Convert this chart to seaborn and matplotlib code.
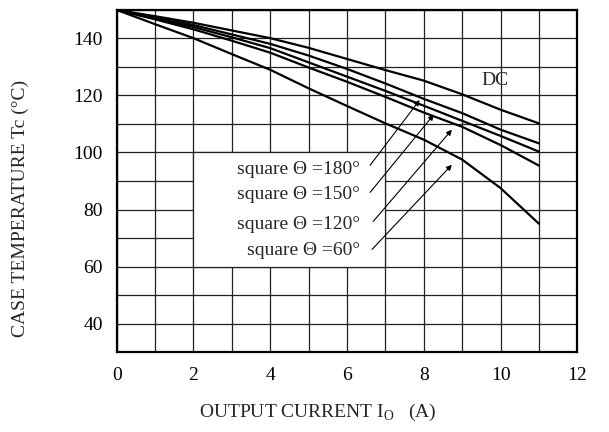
import matplotlib
matplotlib.use("Agg")
import matplotlib.pyplot as plt
import seaborn as sns
import pandas as pd
from matplotlib.patches import Rectangle

current = [0, 1, 2, 3, 4, 5, 6, 7, 8, 9, 10, 11]
temp_dc = [150, 147.8, 145.5, 142.8, 140.1, 136.7, 132.8, 128.9, 125.2, 120.4, 115.0, 110.2]
temp_180 = [150, 147.4, 144.7, 141.4, 138.1, 134.0, 129.3, 124.2, 118.8, 113.8, 108.0, 103.2]
temp_150 = [150, 147.0, 144.0, 140.4, 136.6, 131.6, 126.6, 121.6, 116.4, 111.1, 105.8, 100.3]
temp_120 = [150, 146.7, 143.2, 139.2, 135.0, 129.8, 124.8, 119.5, 114.0, 109.0, 102.6, 95.4]
temp_60 = [150, 145.0, 140.1, 134.5, 129.0, 122.5, 116.3, 110.2, 104.5, 97.5, 87.5, 75.0]

labels = ["square \u0398 =180\u00b0", "square \u0398 =150\u00b0",
          "square \u0398 =120\u00b0", "square \u0398 =60\u00b0"]
label_y = [93.9, 85.1, 74.9, 65.8]
arrow_start = [(6.60, 95.5), (6.60, 86.0), (6.68, 75.8), (6.65, 66.0)]
arrow_end = [(7.89, 118.4), (8.26, 113.3), (8.73, 108.0), (8.73, 95.7)]

xticks = [0, 2, 4, 6, 8, 10, 12]
yticks = [40, 60, 80, 100, 120, 140]

sns.set_theme(style="white")
plt.rcParams['font.family'] = ['Liberation Serif', 'DejaVu Serif']
plt.rcParams['mathtext.fontset'] = 'custom'
plt.rcParams['mathtext.rm'] = 'Liberation Serif'

fig = plt.figure(figsize=(6.09, 4.32), dpi=100)
ax = fig.add_axes([0.1916, 0.185, 0.7565, 0.792])

df = pd.DataFrame({
    "I": current * 5,
    "T": temp_dc + temp_180 + temp_150 + temp_120 + temp_60,
    "curve": (["DC"] * 12 + ["180"] * 12 + ["150"] * 12 + ["120"] * 12 + ["60"] * 12),
})
sns.lineplot(data=df, x="I", y="T", units="curve", estimator=None, color="black",
             linewidth=1.6, ax=ax, zorder=4)

ax.set_xlim(0, 12)
ax.set_ylim(30, 150)
ax.set_xticks(xticks)
ax.set_yticks(yticks)
ax.set_xticks(range(0, 13), minor=True)
ax.set_yticks(range(30, 151, 10), minor=True)
ax.grid(True, which="both", color="#222222", linewidth=0.9, zorder=1)
ax.set_axisbelow(True)
ax.tick_params(which="both", length=0, labelsize=14, colors="black")
ax.tick_params(axis="y", pad=10)
ax.tick_params(axis="x", pad=11)

for s in ax.spines.values():
    s.set_visible(True)
    s.set_color("black")
    s.set_linewidth(1.6)

box = Rectangle((2, 60), 5, 40, facecolor="white", edgecolor="#222222",
                linewidth=0.9, zorder=2)
ax.add_patch(box)

for lab, ly in zip(labels, label_y):
    ax.text(6.34, ly, lab, ha="right", va="center", fontsize=14, zorder=5)
for (sx, sy), (ex, ey) in zip(arrow_start, arrow_end):
    ax.annotate("", xy=(ex, ey), xytext=(sx, sy),
                arrowprops=dict(arrowstyle="-|>", color="black", lw=0.8,
                                mutation_scale=8, shrinkA=0, shrinkB=0), zorder=5)

ax.text(9.85, 125.2, "DC", ha="center", va="center", fontsize=14, zorder=5)

ax.set_xlabel("")
ax.set_ylabel("")
fig.text(318 / 609, 1 - 412 / 432, r"OUTPUT CURRENT I$_\mathrm{O}$   (A)",
         fontsize=14, ha="center", va="center")
fig.text(20 / 609, 1 - 208 / 432, "CASE TEMPERATURE Tc (\u00b0C)",
         fontsize=14, ha="center", va="center", rotation=90)

fig.savefig("out.png", dpi=100)
